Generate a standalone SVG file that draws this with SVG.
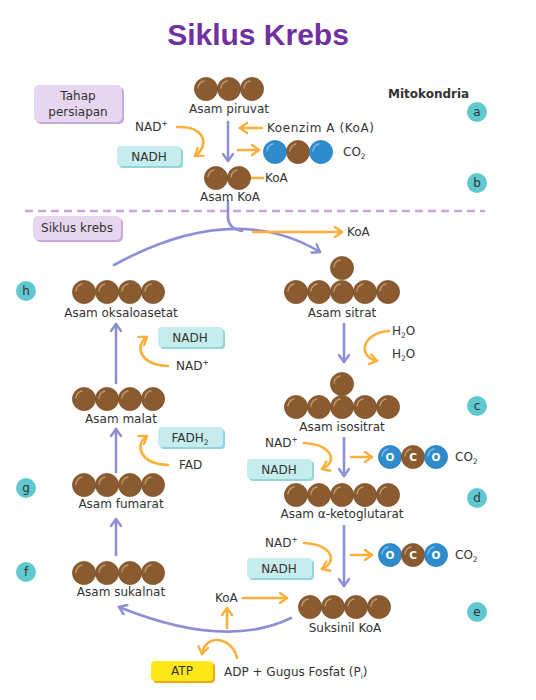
<svg xmlns="http://www.w3.org/2000/svg" xmlns:xlink="http://www.w3.org/1999/xlink" width="536" height="700" viewBox="0 0 536 700">
<style>
text{font-family:"DejaVu Sans","Noto Sans","Liberation Sans",sans-serif;fill:#333;font-size:12px}
.c{text-anchor:middle}
.t{font-family:"Liberation Sans",Arial,sans-serif;font-weight:bold;font-size:30px;fill:#7030a0}
.bold{font-weight:bold}
.sub{font-size:7.5px}
.p{fill:none;stroke:#8d8fd5;stroke-width:2.6;stroke-linecap:round}
.o{fill:none;stroke:#fbb03b;stroke-width:2.6;stroke-linecap:round}
.lav{fill:#e6d6ef}.lavs{fill:#c9a9dc}
.nb{fill:#c6ecee}.nbs{fill:#92d6dc}
.tc{fill:#5fc9cf}
.w{fill:#fff;font-weight:bold;font-size:10.5px;text-anchor:middle}
</style>
<defs>
<g id="b"><circle r="11.6" fill="#8a5b30" stroke="#74481f" stroke-width="0.6"/><path d="M-8,-1 A8,8 0 0 1 -2,-8" stroke="#c3986c" stroke-width="1.4" fill="none" stroke-linecap="round"/></g>
<g id="bb"><circle r="11.6" fill="#2f8ccc" stroke="#1f74b0" stroke-width="0.6"/><path d="M-8,-1 A8,8 0 0 1 -2,-8" stroke="#7fbde6" stroke-width="1.4" fill="none" stroke-linecap="round"/></g>
<marker id="mp" viewBox="0 0 12 12" refX="10" refY="6" markerWidth="12" markerHeight="12" markerUnits="userSpaceOnUse" orient="auto"><path d="M3,1 L10,6 L3,11" fill="none" stroke="#8d8fd5" stroke-width="2.4" stroke-linecap="round" stroke-linejoin="round"/></marker>
<marker id="mo" viewBox="0 0 12 12" refX="10" refY="6" markerWidth="12" markerHeight="12" markerUnits="userSpaceOnUse" orient="auto"><path d="M3,1 L10,6 L3,11" fill="none" stroke="#fbb03b" stroke-width="2.4" stroke-linecap="round" stroke-linejoin="round"/></marker>
</defs>
<rect width="536" height="700" fill="#fff"/>
<text class="t c" x="258" y="45">Siklus Krebs</text>

<g id="connectors">
<path class="p" d="M228,122 L228,161" marker-end="url(#mp)"/>
<path class="o" d="M262,128 L240,128" marker-end="url(#mo)"/>
<path class="o" d="M238,150 L259,150" marker-end="url(#mo)"/>
<path class="o" d="M177,127 C205,126 210,145 195,156" marker-end="url(#mo)"/>
<path class="o" d="M250,178 L263,178"/>
<line x1="25" y1="211" x2="485" y2="211" stroke="#c9a3dc" stroke-width="2.4" stroke-dasharray="8,5"/>
<path class="p" d="M228,201 L228,218 Q229,229 242,231"/>
<path class="p" d="M114,265 Q233,200 320,252" marker-end="url(#mp)"/>
<path class="o" d="M253,232 L342,232" marker-end="url(#mo)"/>
<path class="p" d="M344,324 L344,362" marker-end="url(#mp)"/>
<path class="o" d="M389,331 C362,333 357,356 377,361" marker-end="url(#mo)"/>
<path class="p" d="M344,438 L344,476" marker-end="url(#mp)"/>
<path class="o" d="M304,443 C333,445 338,462 322,469" marker-end="url(#mo)"/>
<path class="o" d="M351,457 L372,457" marker-end="url(#mo)"/>
<path class="p" d="M344,526 L344,586" marker-end="url(#mp)"/>
<path class="o" d="M304,543 C333,545 338,562 322,569" marker-end="url(#mo)"/>
<path class="o" d="M351,555 L372,555" marker-end="url(#mo)"/>
<path class="o" d="M243,598 L287,598" marker-end="url(#mo)"/>
<path class="p" d="M291,618 Q225,650 119,607" marker-end="url(#mp)"/>
<path class="o" d="M227,628 L227,608" marker-end="url(#mo)"/>
<path class="o" d="M237,658 C233,638 206,632 202,654" marker-end="url(#mo)"/>
<path class="p" d="M116,383 L116,324" marker-end="url(#mp)"/>
<path class="p" d="M116,472 L116,429" marker-end="url(#mp)"/>
<path class="p" d="M116,555 L116,519" marker-end="url(#mp)"/>
<path class="o" d="M168,366 C140,365 134,346 147,337" marker-end="url(#mo)"/>
<path class="o" d="M168,465 C140,464 134,445 147,436" marker-end="url(#mo)"/>
</g>

<g id="tahap"><rect class="lavs" x="36" y="87" width="88" height="37" rx="5"/><rect class="lav" x="34" y="85" width="88" height="37" rx="5"/><text class="c" x="78" y="100">Tahap</text><text class="c" x="78" y="116">persiapan</text></g>
<g id="siklus"><rect class="lavs" x="35" y="218" width="88" height="24" rx="5"/><rect class="lav" x="33" y="216" width="88" height="24" rx="5"/><text class="c" x="77" y="232">Siklus krebs</text></g>
<text class="bold" x="388" y="98" font-size="11.5px">Mitokondria</text>

<g id="lbl-a"><circle class="tc" cx="477" cy="112" r="10"/><text class="c" x="477" y="116">a</text></g>
<g id="lbl-b"><circle class="tc" cx="477" cy="183" r="10"/><text class="c" x="477" y="187">b</text></g>
<g id="lbl-c"><circle class="tc" cx="477" cy="406" r="10"/><text class="c" x="477" y="410">c</text></g>
<g id="lbl-d"><circle class="tc" cx="477" cy="498" r="10"/><text class="c" x="477" y="502">d</text></g>
<g id="lbl-e"><circle class="tc" cx="477" cy="612" r="10"/><text class="c" x="477" y="616">e</text></g>
<g id="lbl-f"><circle class="tc" cx="26" cy="572" r="10"/><text class="c" x="26" y="576">f</text></g>
<g id="lbl-g"><circle class="tc" cx="26" cy="488" r="10"/><text class="c" x="26" y="492">g</text></g>
<g id="lbl-h"><circle class="tc" cx="26" cy="291" r="10"/><text class="c" x="26" y="295">h</text></g>

<g id="piruvat"><use href="#b" x="206" y="89"/><use href="#b" x="229" y="89"/><use href="#b" x="252" y="89"/><text class="c" x="229" y="113">Asam piruvat</text></g>
<text x="135" y="131">NAD<tspan class="sub" dy="-5">+</tspan></text>
<g id="nadh1"><rect class="nbs" x="119" y="148" width="64" height="20" rx="4"/><rect class="nb" x="117" y="146" width="64" height="20" rx="4"/><text class="c" x="149" y="161">NADH</text></g>
<text x="267" y="132" textLength="107">Koenzim A (KoA)</text>
<g id="co2a"><use href="#bb" x="275" y="152"/><use href="#b" x="298" y="152"/><use href="#bb" x="321" y="152"/></g>
<text x="343" y="156">CO<tspan class="sub" dy="3">2</tspan></text>
<g id="asamkoa"><use href="#b" x="216" y="178"/><use href="#b" x="239" y="178"/><text x="265" y="182">KoA</text><text class="c" x="230" y="201">Asam KoA</text></g>
<text x="347" y="236">KoA</text>

<g id="oksaloasetat"><use href="#b" x="84" y="292"/><use href="#b" x="107" y="292"/><use href="#b" x="130" y="292"/><use href="#b" x="153" y="292"/><text class="c" x="121" y="317">Asam oksaloasetat</text></g>
<g id="sitrat"><use href="#b" x="342" y="268"/><use href="#b" x="296" y="292"/><use href="#b" x="319" y="292"/><use href="#b" x="342" y="292"/><use href="#b" x="365" y="292"/><use href="#b" x="388" y="292"/><text class="c" x="342" y="317">Asam sitrat</text></g>
<text x="392" y="335">H<tspan class="sub" dy="3">2</tspan><tspan dy="-3">O</tspan></text>
<text x="392" y="358">H<tspan class="sub" dy="3">2</tspan><tspan dy="-3">O</tspan></text>

<g id="nadh2"><rect class="nbs" x="160" y="329" width="65" height="20" rx="4"/><rect class="nb" x="158" y="327" width="65" height="20" rx="4"/><text class="c" x="190" y="342">NADH</text></g>
<text x="176" y="370">NAD<tspan class="sub" dy="-5">+</tspan></text>

<g id="malat"><use href="#b" x="84" y="399"/><use href="#b" x="107" y="399"/><use href="#b" x="130" y="399"/><use href="#b" x="153" y="399"/><text class="c" x="121" y="423">Asam malat</text></g>
<g id="fadh2"><rect class="nbs" x="160" y="429" width="65" height="20" rx="4"/><rect class="nb" x="158" y="427" width="65" height="20" rx="4"/><text class="c" x="190" y="442">FADH<tspan class="sub" dy="3">2</tspan></text></g>
<text x="179" y="469">FAD</text>
<g id="fumarat"><use href="#b" x="84" y="485"/><use href="#b" x="107" y="485"/><use href="#b" x="130" y="485"/><use href="#b" x="153" y="485"/><text class="c" x="121" y="508">Asam fumarat</text></g>
<g id="sukalnat"><use href="#b" x="84" y="573"/><use href="#b" x="107" y="573"/><use href="#b" x="130" y="573"/><use href="#b" x="153" y="573"/><text class="c" x="121" y="596">Asam sukalnat</text></g>

<g id="isositrat"><use href="#b" x="342" y="384"/><use href="#b" x="296" y="407"/><use href="#b" x="319" y="407"/><use href="#b" x="342" y="407"/><use href="#b" x="365" y="407"/><use href="#b" x="388" y="407"/><text class="c" x="342" y="431">Asam isositrat</text></g>
<text x="265" y="447">NAD<tspan class="sub" dy="-5">+</tspan></text>
<g id="nadh3"><rect class="nbs" x="249" y="461" width="65" height="20" rx="4"/><rect class="nb" x="247" y="459" width="65" height="20" rx="4"/><text class="c" x="279" y="474">NADH</text></g>
<g id="co2b"><use href="#bb" x="390" y="457"/><use href="#b" x="413" y="457"/><use href="#bb" x="436" y="457"/><text class="w" x="390" y="461">O</text><text class="w" x="413" y="461">C</text><text class="w" x="436" y="461">O</text></g>
<text x="455" y="461">CO<tspan class="sub" dy="3">2</tspan></text>
<g id="ketoglutarat"><use href="#b" x="296" y="495"/><use href="#b" x="319" y="495"/><use href="#b" x="342" y="495"/><use href="#b" x="365" y="495"/><use href="#b" x="388" y="495"/><text class="c" x="342" y="518">Asam α-ketoglutarat</text></g>

<text x="265" y="547">NAD<tspan class="sub" dy="-5">+</tspan></text>
<g id="nadh4"><rect class="nbs" x="249" y="560" width="65" height="20" rx="4"/><rect class="nb" x="247" y="558" width="65" height="20" rx="4"/><text class="c" x="279" y="573">NADH</text></g>
<g id="co2c"><use href="#bb" x="390" y="555"/><use href="#b" x="413" y="555"/><use href="#bb" x="436" y="555"/><text class="w" x="390" y="559">O</text><text class="w" x="413" y="559">C</text><text class="w" x="436" y="559">O</text></g>
<text x="455" y="559">CO<tspan class="sub" dy="3">2</tspan></text>
<g id="suksinil"><use href="#b" x="310" y="607"/><use href="#b" x="333" y="607"/><use href="#b" x="356" y="607"/><use href="#b" x="379" y="607"/><text class="c" x="345" y="632">Suksinil KoA</text></g>
<text x="215" y="602">KoA</text>
<g id="atp"><rect x="153" y="663" width="62" height="20" rx="4" fill="#f6a623"/><rect x="151" y="661" width="62" height="20" rx="4" fill="#ffe81a"/><text class="c" x="182" y="675">ATP</text></g>
<text x="224" y="676" font-size="13px">ADP + Gugus Fosfat (P<tspan class="sub" dy="3">i</tspan><tspan dy="-3">)</tspan></text>
</svg>
